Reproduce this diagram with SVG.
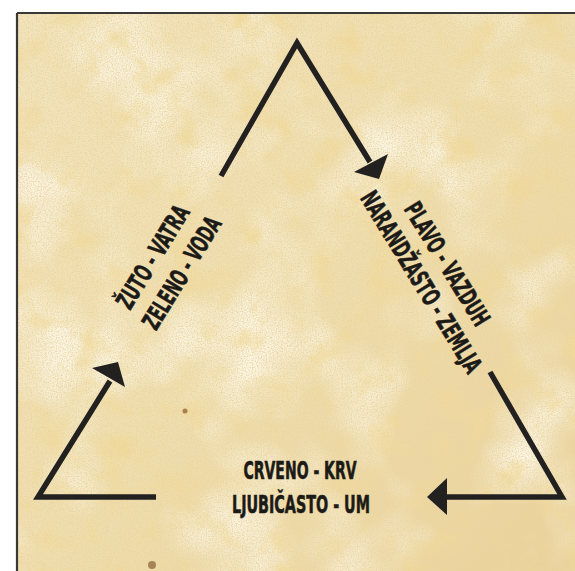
<svg xmlns="http://www.w3.org/2000/svg" width="575" height="571" viewBox="0 0 575 571">
  <defs>
    <style>
      .lbl { font-family: "Liberation Sans Narrow", "DejaVu Sans Condensed", "Liberation Sans", sans-serif; font-weight: bold; font-size: 25px; fill: #1c1a17; stroke: #1c1a17; stroke-width: 0.6; text-anchor: middle; }
      .arr { fill: none; stroke: #222120; stroke-width: 5.5; stroke-linejoin: miter; stroke-linecap: butt; }
      .head { fill: #222120; }
    </style>
    <linearGradient id="tone" x1="0" y1="0" x2="1" y2="1">
      <stop offset="0" stop-color="#f2e4bd"/>
      <stop offset="0.5" stop-color="#efdeae"/>
      <stop offset="1" stop-color="#ead19a"/>
    </linearGradient>
    <filter id="blotch" x="0" y="0" width="100%" height="100%">
      <feTurbulence type="fractalNoise" baseFrequency="0.03" numOctaves="4" seed="7" result="n"/>
      <feColorMatrix in="n" type="matrix" values="0 0 0 0 0.88  0 0 0 0 0.70  0 0 0 0 0.32  2.6 0 0 0 -1.3"/>
    </filter>
    <filter id="light" x="0" y="0" width="100%" height="100%">
      <feTurbulence type="fractalNoise" baseFrequency="0.01" numOctaves="3" seed="2" result="n"/>
      <feColorMatrix in="n" type="matrix" values="0 0 0 0 0.98  0 0 0 0 0.96  0 0 0 0 0.86  0 2.2 0 0 -1.0"/>
    </filter>
    <filter id="grain" x="0" y="0" width="100%" height="100%">
      <feTurbulence type="fractalNoise" baseFrequency="0.8" numOctaves="2" seed="5" result="n"/>
      <feColorMatrix in="n" type="matrix" values="0 0 0 0 0.82  0 0 0 0 0.66  0 0 0 0 0.36  0 0 2.4 0 -1.0"/>
    </filter>
  </defs>

  <rect width="575" height="571" fill="#ffffff"/>
  <g id="paper">
    <rect x="17" y="13" width="558" height="558" fill="url(#tone)"/>
    <rect x="17" y="13" width="558" height="558" filter="url(#light)"/>
    <rect x="17" y="13" width="558" height="558" filter="url(#blotch)"/>
    <rect x="17" y="13" width="558" height="558" filter="url(#grain)"/>
    <circle cx="185" cy="411" r="2.5" fill="#8a5a2a" opacity="0.7"/>
    <circle cx="152" cy="565" r="4" fill="#7a4a20" opacity="0.6"/>
    <path d="M17,13 H575 M17,13 V571" fill="none" stroke="#3a3836" stroke-width="2.2"/>
  </g>

  <g id="connectors">
    <polyline class="arr" points="221,176 297,43 370,162"/>
    <polygon class="head" points="379,179 388,154 354,172"/>
    <polyline class="arr" points="156,497 38,497 110,381"/>
    <polygon class="head" points="118,362 92,368 125,387"/>
    <polyline class="arr" points="490,372 562,497 445,497"/>
    <polygon class="head" points="427,497 447,478 447,515"/>
  </g>

  <g id="node-left">
    <text class="lbl" transform="translate(153,257) rotate(-58.5)" y="8.5" textLength="116" lengthAdjust="spacingAndGlyphs">ŽUTO - VATRA</text>
    <text class="lbl" transform="translate(182,273) rotate(-58.5)" y="8.5" textLength="127" lengthAdjust="spacingAndGlyphs">ZELENO - VODA</text>
  </g>
  <g id="node-right">
    <text class="lbl" transform="translate(447,264) rotate(58.5)" y="8.5" textLength="140" lengthAdjust="spacingAndGlyphs">PLAVO - VAZDUH</text>
    <text class="lbl" transform="translate(421,282) rotate(58.5)" y="8.5" textLength="208" lengthAdjust="spacingAndGlyphs">NARANDŽASTO - ZEMLJA</text>
  </g>
  <g id="node-bottom">
    <text class="lbl" x="300" y="479" textLength="113" lengthAdjust="spacingAndGlyphs">CRVENO - KRV</text>
    <text class="lbl" x="301" y="513" textLength="138" lengthAdjust="spacingAndGlyphs">LJUBIČASTO - UM</text>
  </g>
</svg>
